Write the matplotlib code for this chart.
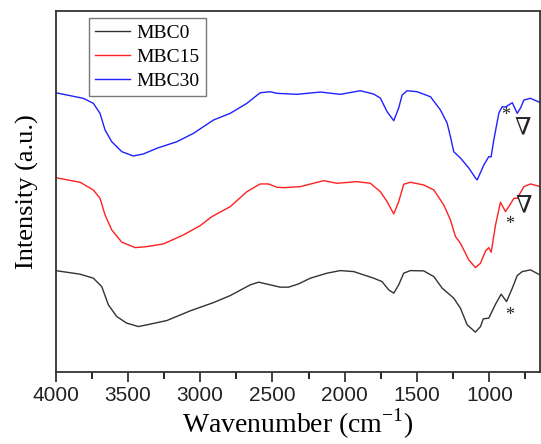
import matplotlib
matplotlib.use('Agg')
import matplotlib.pyplot as plt
from matplotlib.ticker import MultipleLocator

# FTIR spectra (wavenumber in cm-1, intensity in a.u.)
wn_mbc30 = [4000, 3808, 3739, 3693, 3658, 3612, 3542, 3462, 3393, 3300, 3161,
            3046, 2908, 2792, 2677, 2585, 2515, 2469, 2330, 2169, 2031, 1892,
            1800, 1754, 1707, 1661, 1627, 1603, 1569, 1499, 1407, 1338, 1292,
            1269, 1246, 1200, 1142, 1096, 1084, 1038, 1004, 988, 969, 934,
            911, 888, 841, 807, 784, 761, 715, 646]
i_mbc30 = [279.3, 273.7, 268.7, 258.7, 242, 230.3, 220.3, 216, 218, 223.7, 230.3,
           238.7, 252, 258.7, 268.7, 279.3, 280.3, 278.7, 277.7, 280, 277.7, 281.3,
           278, 274, 260.3, 251.3, 264, 277, 281.3, 280.3, 275.3, 262, 249,
           235.3, 220.3, 214, 204, 194, 192, 207, 215.3, 215, 232, 259,
           265.3, 265, 269.3, 258.7, 264, 272, 273.7, 269.3]

wn_mbc15 = [4000, 3831, 3739, 3693, 3658, 3612, 3542, 3450, 3369, 3254, 3116,
            3000, 2919, 2792, 2677, 2585, 2527, 2469, 2423, 2308, 2146, 2053,
            1915, 1823, 1754, 1707, 1661, 1627, 1592, 1546, 1454, 1384, 1315,
            1269, 1234, 1200, 1142, 1096, 1061, 1026, 1004, 987, 957, 923,
            888, 858, 830, 807, 761, 715, 646]
i_mbc15 = [194.3, 189.7, 182, 173.7, 157, 142, 129.7, 124.3, 125.3, 128, 137,
           146.3, 155.3, 165.3, 180.3, 188, 188, 184.7, 184.3, 185.3, 191.3, 188.7,
           190.3, 188.7, 180.3, 170.3, 158, 170.3, 187.7, 189.7, 187, 182, 167,
           152, 135.3, 128.7, 112, 104.3, 108.7, 121, 124.3, 119.7, 147, 169.7,
           160.3, 167, 173.7, 173.7, 185.3, 188, 185.3]

wn_mbc0 = [4000, 3831, 3739, 3681, 3635, 3577, 3508, 3427, 3346, 3231, 3069,
           2908, 2792, 2654, 2596, 2515, 2446, 2389, 2319, 2238, 2123, 2031,
           1938, 1800, 1742, 1696, 1661, 1627, 1592, 1546, 1454, 1384, 1326,
           1246, 1200, 1153, 1096, 1061, 1042, 1004, 957, 918, 881, 841,
           807, 772, 715, 650]
i_mbc0 = [101.3, 97.7, 93.7, 85.3, 67, 55.3, 48.7, 45.3, 47.7, 51.3, 61,
          69.3, 76.3, 87, 89.7, 87, 84.7, 84.7, 88, 93.7, 98.7, 101.3,
          100.3, 93.7, 90.3, 82, 78.7, 87, 98.7, 101.3, 101, 95.3, 83.7,
          73.7, 63.7, 47, 39.7, 45.3, 53, 53.7, 67.7, 77.7, 70.3, 83.7,
          96.3, 100.3, 102, 97]

labels = ['MBC0', 'MBC15', 'MBC30']
colors = ['#333333', '#ff2020', '#2020ff']

# peak markers: (wavenumber, intensity, symbol)
marks = [(888, 257, '*'), (768, 242, '∇'),
         (860, 147, '*'), (765, 164, '∇'),
         (860, 56, '*')]

fig = plt.figure(figsize=(5.41, 4.44), dpi=100)
ax = fig.add_axes([0.1028, 0.1626, 0.8952, 0.8124])

ax.plot(wn_mbc0, i_mbc0, color=colors[0], lw=1.0, label=labels[0])
ax.plot(wn_mbc15, i_mbc15, color=colors[1], lw=1.0, label=labels[1])
ax.plot(wn_mbc30, i_mbc30, color=colors[2], lw=1.0, label=labels[2])

serif = ['Liberation Serif', 'DejaVu Serif']
for x, y, s in marks:
    ax.text(x, y, s, ha='center', va='center', fontsize=17 if s == '∇' else 13,
            family=serif, color='#222222')

ax.set_xlim(4000, 650)
ax.set_ylim(0, 361)
ax.xaxis.set_major_locator(MultipleLocator(500))
ax.xaxis.set_minor_locator(MultipleLocator(250))
ax.tick_params(axis='x', which='major', direction='out', length=7, width=1.2,
               labelsize=15, colors='#222222')
ax.tick_params(axis='x', which='minor', direction='out', length=5, width=1.2)
for lab in ax.get_xticklabels():
    lab.set_family('Liberation Sans')
ax.set_yticks([])
for sp in ax.spines.values():
    sp.set_linewidth(1.3)
    sp.set_color('#333333')

ax.set_xlabel('Wavenumber (cm$^{\\mathregular{-1}}$)', fontsize=20, family=serif,
              labelpad=1)
ax.set_ylabel('Intensity (a.u.)', fontsize=19, family=serif, labelpad=12)

leg = ax.legend(loc='upper left', bbox_to_anchor=(0.068, 0.982), fancybox=False,
                edgecolor='#555555', handlelength=1.8, handletextpad=0.3,
                borderpad=0.35, labelspacing=0.32, borderaxespad=0,
                prop={'family': serif, 'size': 14})
leg.get_frame().set_linewidth(1.0)

plt.savefig('out.png', dpi=100)
